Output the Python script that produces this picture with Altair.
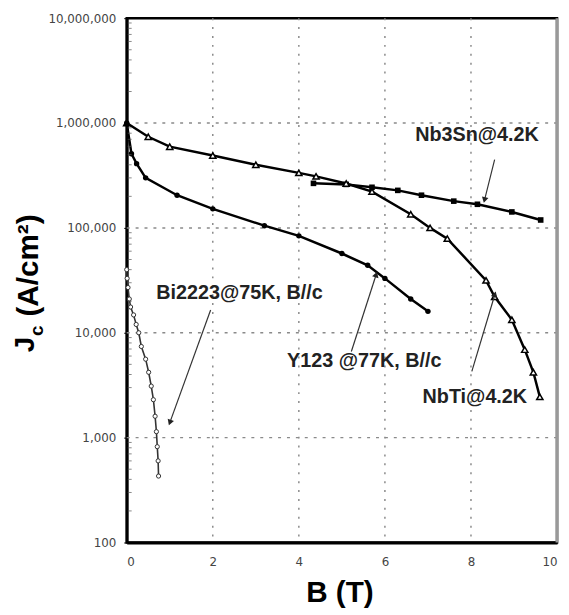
import math
import altair as alt
import pandas as pd

# ---------------- data ----------------
nb3sn_B = [4.34, 5.1, 5.7, 6.3, 6.85, 7.6, 8.15, 8.95, 9.62]
nb3sn_J = [266000, 260000, 244000, 228000, 205000, 180000, 168000, 142000, 119000]

nbti_B = [0, 0.5, 1.0, 2.0, 3.0, 4.0, 4.4, 5.1, 5.7, 6.6, 7.05, 7.45, 8.35, 8.55, 8.95, 9.25, 9.45, 9.6]
nbti_J = [1000000, 740000, 595000, 490000, 400000, 335000, 310000, 265000, 222000,
          135000, 100000, 79000, 31600, 22000, 13300, 6900, 4200, 2450]

y123_B = [0, 0.11, 0.23, 0.44, 1.17, 2.0, 3.2, 4.0, 5.0, 5.6, 6.0, 6.6, 7.0]
y123_J = [1000000, 510000, 410000, 300000, 205000, 152000, 105000, 84000, 57000, 44000, 33000, 21000, 16000]

bi_B = [0, 0.01, 0.03, 0.06, 0.09, 0.16, 0.22, 0.28, 0.34, 0.44, 0.51, 0.57, 0.62, 0.66, 0.69, 0.71, 0.73, 0.74]
bi_J = [40000, 33000, 27000, 21000, 17600, 14800, 12000, 10000, 7400, 5600, 4200, 3100, 2300, 1600, 1140, 820, 600, 430]

label_text = ["Nb3Sn@4.2K", "Bi2223@75K, B//c", "Y123 @77K, B//c", "NbTi@4.2K"]
label_B = [8.14, 2.62, 5.52, 8.09]
label_J = [771000, 23800, 5330, 2440]

arrow_B1 = [8.55, 1.95, 5.22, 8.02]
arrow_J1 = [448000, 16500, 6620, 4290]
arrow_B2 = [8.32, 1.01, 5.79, 8.55]
arrow_J2 = [188000, 1420, 35200, 22800]

x_ticks = [0, 2, 4, 6, 8, 10]
y_ticks = [100, 1000, 10000, 100000, 1000000, 10000000]
y_minor = [k * 10 ** d for d in range(2, 7) for k in range(2, 10)]

# ---------------- layout ----------------
W, H = 435, 530
FONT = "Liberation Sans"
GRID = "#8a8a8a"

def to_px(b, j):
    return b / 10 * W, (7 - math.log10(j)) / 5 * H

angles = []
for b1, j1, b2, j2 in zip(arrow_B1, arrow_J1, arrow_B2, arrow_J2):
    x1, y1 = to_px(b1, j1)
    x2, y2 = to_px(b2, j2)
    angles.append(math.degrees(math.atan2(x2 - x1, -(y2 - y1))) % 360)

xs = alt.Scale(domain=[0, 10], nice=False, zero=False)
ys = alt.Scale(type="log", domain=[100, 10000000], nice=False)

x_axis = alt.Axis(values=x_ticks, grid=False,
                  domainColor="black", domainWidth=3, ticks=False, labelPadding=14,
                  labelFont="DejaVu Sans", labelFontSize=12, labelColor="#444",
                  title="B (T)", titleFont=FONT, titleFontSize=30, titleFontWeight="bold",
                  titleColor="black", titleX=215, titleY=60, titleBaseline="alphabetic",
                  titleAlign="center", titleAnchor="middle")
y_axis = alt.Axis(values=y_ticks, format=",.0f", grid=False,
                  domainColor="black", domainWidth=3, tickSize=3, tickColor="black",
                  labelPadding=8, labelFont="DejaVu Sans", labelFontSize=12, labelColor="#444",
                  title=None)

def series_df(B, J):
    return pd.DataFrame({"B": B, "J": J})

# dotted grid lines at the tick values
xgrid = alt.Chart(pd.DataFrame({"g": x_ticks[1:-1]})).mark_rule(
    color=GRID, strokeWidth=1.5, strokeDash=[2, 7]).encode(
    x=alt.X("g:Q", scale=xs, axis=x_axis))
ygrid = alt.Chart(pd.DataFrame({"g": y_ticks[1:-1]})).mark_rule(
    color=GRID, strokeWidth=1.5, strokeDash=[3, 6]).encode(
    y=alt.Y("g:Q", scale=ys, axis=y_axis))

nb3sn = alt.Chart(series_df(nb3sn_B, nb3sn_J)).mark_line(
    color="black", strokeWidth=2.5,
    point=alt.OverlayMarkDef(shape="square", size=32, filled=True, color="black")
).encode(x="B:Q", y="J:Q")

nbti = alt.Chart(series_df(nbti_B, nbti_J)).mark_line(
    color="black", strokeWidth=2.5,
    point=alt.OverlayMarkDef(shape="triangle-up", size=40, filled=False, fill="white",
                             stroke="black", strokeWidth=1.5)
).encode(x="B:Q", y="J:Q")

y123 = alt.Chart(series_df(y123_B, y123_J)).mark_line(
    color="black", strokeWidth=2.5,
    point=alt.OverlayMarkDef(shape="circle", size=30, filled=True, color="black")
).encode(x="B:Q", y="J:Q")

bi = alt.Chart(series_df(bi_B, bi_J)).mark_line(
    color="#333", strokeWidth=1.6,
    point=alt.OverlayMarkDef(shape="circle", size=18, filled=False, fill="white",
                             stroke="#333", strokeWidth=1)
).encode(x="B:Q", y="J:Q")

ann = pd.DataFrame({"t": label_text, "B": label_B, "J": label_J})
labels = alt.Chart(ann).mark_text(font=FONT, fontSize=20, fontWeight="bold", color="#222",
                                  align="center", baseline="middle").encode(
    x="B:Q", y="J:Q", text="t:N")

arr = pd.DataFrame({"B1": arrow_B1, "J1": arrow_J1, "B2": arrow_B2, "J2": arrow_J2, "ang": angles})
arrow_lines = alt.Chart(arr).mark_rule(color="#333", strokeWidth=1.2).encode(
    x="B1:Q", y="J1:Q", x2="B2", y2="J2")
arrow_heads = alt.Chart(arr).mark_point(shape="triangle", size=45, filled=True, color="#222",
                                        opacity=1).encode(
    x="B2:Q", y="J2:Q", angle=alt.Angle("ang:Q", scale=None))

# inward minor ticks on the log axis
minor = alt.Chart(pd.DataFrame({"m": y_minor})).mark_tick(
    orient="horizontal", color="#555", size=4, thickness=1, xOffset=3).encode(
    x=alt.value(0), y="m:Q")

# gray right border
right_border = alt.Chart(pd.DataFrame({"d": [0]})).mark_rule(color="#999", strokeWidth=3).encode(
    x=alt.value(W), y=alt.value(0), y2=alt.value(H))

# y-axis title "Jc (A/cm²)" with subscript, built from rotated text pieces
one = pd.DataFrame({"d": [0]})
t_J = alt.Chart(one).mark_text(text="J", angle=270, font=FONT, fontSize=28, fontWeight="bold",
                               color="black", align="center", baseline="alphabetic").encode(
    x=alt.value(-94), y=alt.value(330))
t_c = alt.Chart(one).mark_text(text="c", angle=270, font=FONT, fontSize=19, fontWeight="bold",
                               color="black", align="center", baseline="alphabetic").encode(
    x=alt.value(-85), y=alt.value(316))
t_u = alt.Chart(one).mark_text(text="(A/cm²)", angle=270, font=FONT, fontSize=30, fontWeight="bold",
                               color="black", align="center", baseline="alphabetic").encode(
    x=alt.value(-90), y=alt.value(250))

chart = alt.layer(xgrid, ygrid, nb3sn, nbti, y123, bi, minor, arrow_lines, arrow_heads, labels,
                  right_border, t_J, t_c, t_u).properties(
    width=W, height=H,
    autosize=alt.AutoSizeParams(type="none"),
    padding={"left": 120, "top": 7, "right": 4, "bottom": 70},
    background="white",
).configure_view(stroke="black", strokeWidth=2.5)

chart.save("out.html", embed_options={"renderer": "svg", "actions": False})
